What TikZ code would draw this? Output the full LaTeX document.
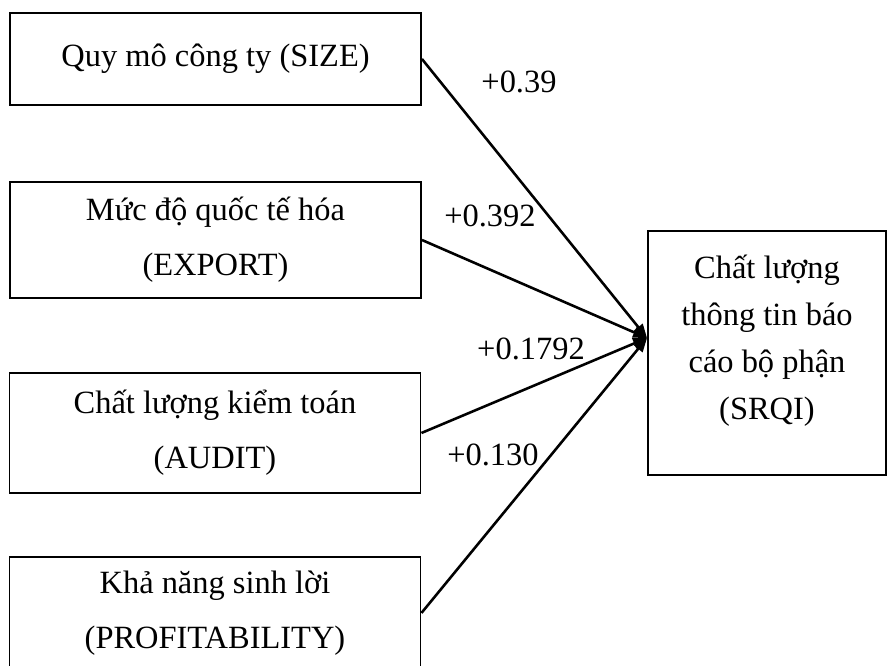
\documentclass[tikz,border=0pt]{standalone}
\usepackage{fontspec}
\setmainfont{Liberation Serif}
\usetikzlibrary{arrows.meta}

\begin{document}
\begin{tikzpicture}[>={Triangle[length=0.42cm,width=0.32cm]},
  every node/.style={font=\fontsize{27.7}{47}\selectfont},
  box/.style={draw,line width=1.6pt,minimum width=12.33cm,align=center},
  coef/.style={inner sep=0pt}]
  \useasboundingbox (0,0) rectangle (26.61,19.98);
  \node[box,minimum height=2.76cm] (size) at (6.465,18.21) {Quy mô công ty (SIZE)};
  \node[box,minimum height=3.48cm] (export) at (6.465,12.78) {Mức độ quốc tế hóa\\(EXPORT)};
  \node[box,minimum height=3.6cm] (audit) at (6.45,6.99) {Chất lượng kiểm toán\\(AUDIT)};
  \node[box,minimum height=3.36cm] (profit) at (6.45,1.59) {Khả năng sinh lời\\(PROFITABILITY)};
  \node[box,minimum width=7.14cm,minimum height=7.32cm,font=\fontsize{27.7}{40}\selectfont] (srqi) at (23.01,9.39)
    {Chất lượng\\thông tin báo\\cáo bộ phận\\(SRQI)\rule[-0.95cm]{0pt}{0pt}};
  \coordinate (tip) at ([yshift=0.45cm]srqi.west);
  \draw[->,line width=2.2pt] (size.east) -- (tip);
  \draw[->,line width=2.2pt] (export.east) -- (tip);
  \draw[->,line width=2.2pt] (audit.east) -- (tip);
  \draw[->,line width=2.2pt] (profit.east) -- (tip);
  \node[coef] (c1) at (15.57,17.52) {+0.39};
  \node[coef] (c2) at (14.7,13.5) {+0.392};
  \node[coef] (c3) at (15.93,9.51) {+0.1792};
  \node[coef] (c4) at (14.79,6.33) {+0.130};
\end{tikzpicture}
\end{document}
